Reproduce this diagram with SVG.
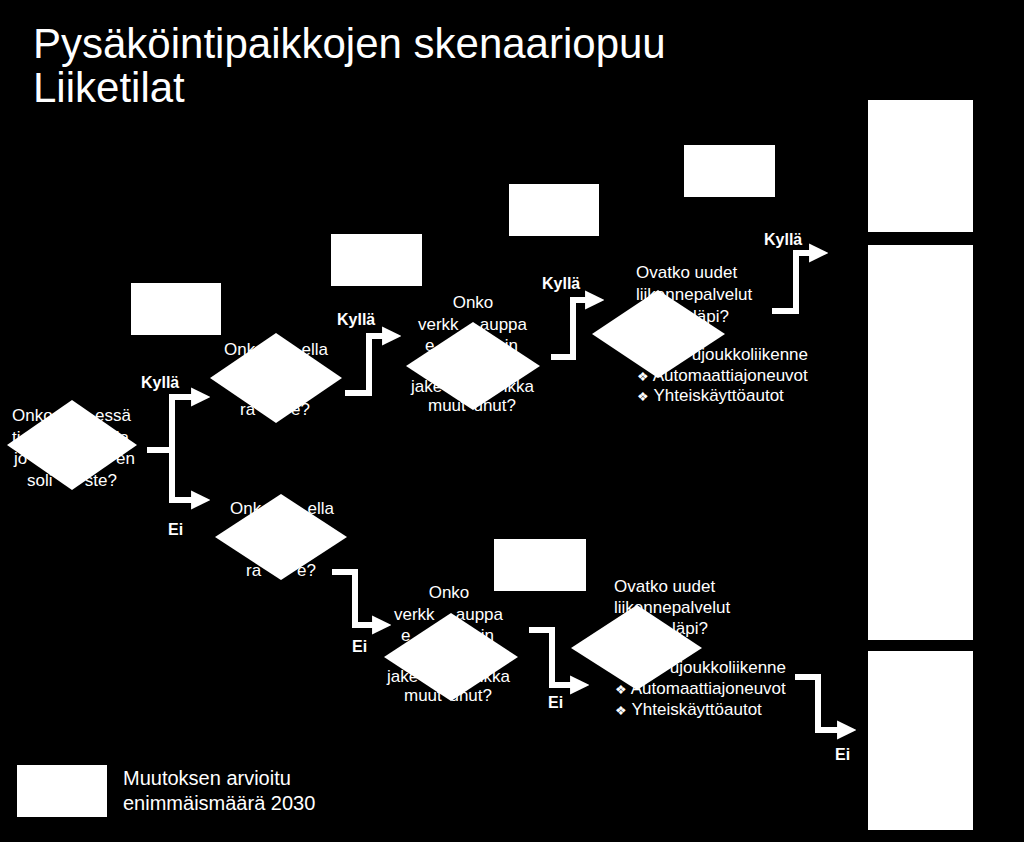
<svg xmlns="http://www.w3.org/2000/svg" width="1024" height="842" viewBox="0 0 1024 842">
<defs>
<style>
text{font-family:"Liberation Sans",Arial,sans-serif;fill:#fff}
.q{font-size:17px}
.s{text-anchor:start}.e{text-anchor:end}.m{text-anchor:middle}
.l{font-size:16px;font-weight:bold}
.c{fill:none;stroke:#fff;stroke-width:6}
.b{fill:#fff}
</style>
<marker id="ah" viewBox="0 0 10 10" refX="1" refY="5" markerWidth="3.2" markerHeight="3.2" orient="auto" markerUnits="strokeWidth"><path d="M0,0L10,5L0,10Z" fill="#fff"/></marker>
</defs>
<rect width="1024" height="842" fill="#000"/>
<g id="title"><text x="33" y="58" font-size="42">Pysäköintipaikkojen skenaariopuu</text><text x="33" y="102" font-size="42">Liiketilat</text></g>
<g id="boxes">
<rect class="b" x="868" y="100" width="105" height="132"/>
<rect class="b" x="868" y="245" width="105" height="395"/>
<rect class="b" x="868" y="651" width="105" height="179"/>
<rect class="b" x="131" y="283" width="90" height="52"/>
<rect class="b" x="331" y="234" width="91" height="52"/>
<rect class="b" x="509" y="184" width="90" height="52"/>
<rect class="b" x="684" y="145" width="91" height="52"/>
<rect class="b" x="494" y="539" width="92" height="52"/>
</g>
<g id="connectors">
<path class="c" d="M147,450H172V397H193" marker-end="url(#ah)"/>
<path class="c" d="M172,450V500H193" marker-end="url(#ah)"/>
<path class="c" d="M345,393H369V336H384" marker-end="url(#ah)"/>
<path class="c" d="M551,357H573V300H587" marker-end="url(#ah)"/>
<path class="c" d="M772,311H796V253H811" marker-end="url(#ah)"/>
<path class="c" d="M332,572H355V625H374" marker-end="url(#ah)"/>
<path class="c" d="M529,630H552V685H572" marker-end="url(#ah)"/>
<path class="c" d="M795,677H818V730H839" marker-end="url(#ah)"/>
</g>
<g id="labels">
<text class="l s" x="141" y="388">Kyllä</text>
<text class="l s" x="337" y="325">Kyllä</text>
<text class="l s" x="542" y="289">Kyllä</text>
<text class="l s" x="764" y="245">Kyllä</text>
<text class="l s" x="168" y="535">Ei</text>
<text class="l s" x="352" y="652">Ei</text>
<text class="l s" x="548" y="708">Ei</text>
<text class="l s" x="835" y="760">Ei</text>
</g>
<g id="n1">
<text class="q s" x="12" y="421">Onko</text><text class="q e" x="131" y="421">essä</text>
<text class="q s" x="12" y="443">ti</text><text class="q e" x="129" y="443">ja</text>
<text class="q s" x="14" y="464">jo</text><text class="q e" x="135" y="464">en</text>
<text class="q s" x="27" y="486">soli</text><text class="q e" x="117" y="486">ste?</text>
<path class="b" d="M72,400L137,445L72,490L7,445Z"/>
</g>
<g id="n2">
<text class="q s" x="224" y="355">Onk</text><text class="q e" x="328" y="355">ella</text>
<text class="q s" x="240" y="415">ra</text><text class="q e" x="310" y="415">e?</text>
<path class="b" d="M276,333L342,378L276,423L210,378Z"/>
</g>
<g id="n3">
<text class="q s" x="230" y="514">Onk</text><text class="q e" x="334" y="514">ella</text>
<text class="q s" x="246" y="576">ra</text><text class="q e" x="316" y="576">e?</text>
<path class="b" d="M281,494L347,537L281,580L215,537Z"/>
</g>
<g id="n4">
<text class="q m" x="473" y="308">Onko</text>
<text class="q s" x="418" y="330">verkk</text><text class="q e" x="527" y="330">auppa</text>
<text class="q s" x="425" y="351">e</text><text class="q e" x="518" y="351">in</text>
<text class="q s" x="411" y="392">jake</text><text class="q e" x="534" y="392">ikka</text>
<text class="q s" x="428" y="411">muut</text><text class="q e" x="516" y="411">unut?</text>
<path class="b" d="M473,322L540,366L473,410L406,366Z"/>
</g>
<g id="n5">
<text class="q s" x="636" y="278">Ovatko uudet</text>
<text class="q s" x="636" y="300">liikennepalvelut</text>
<text class="q e" x="729" y="322">läpi?</text>
<text class="q e" x="808" y="360">ujoukkoliikenne</text>
<text class="q s" x="637" y="381"><tspan font-size="13">❖</tspan> Automaattiajoneuvot</text>
<text class="q s" x="637" y="401"><tspan font-size="13">❖</tspan> Yhteiskäyttöautot</text>
<path class="b" d="M658,290L725,334L658,378L592,334Z"/>
</g>
<g id="n6">
<text class="q m" x="449" y="598">Onko</text>
<text class="q s" x="394" y="620">verkk</text><text class="q e" x="503" y="620">auppa</text>
<text class="q s" x="401" y="641">e</text><text class="q e" x="494" y="641">in</text>
<text class="q s" x="387" y="682">jake</text><text class="q e" x="510" y="682">ikka</text>
<text class="q s" x="404" y="701">muut</text><text class="q e" x="492" y="701">unut?</text>
<path class="b" d="M451,613L518,657L451,701L384,657Z"/>
</g>
<g id="n7">
<text class="q s" x="614" y="592">Ovatko uudet</text>
<text class="q s" x="614" y="613">liikennepalvelut</text>
<text class="q e" x="708" y="634">läpi?</text>
<text class="q e" x="786" y="673">ujoukkoliikenne</text>
<text class="q s" x="615" y="694"><tspan font-size="13">❖</tspan> Automaattiajoneuvot</text>
<text class="q s" x="615" y="715"><tspan font-size="13">❖</tspan> Yhteiskäyttöautot</text>
<path class="b" d="M637,605L702,648L637,690L571,648Z"/>
</g>
<g id="legend">
<rect class="b" x="17" y="765" width="90" height="52"/>
<text x="123" y="785" font-size="20">Muutoksen arvioitu</text>
<text x="123" y="810" font-size="20">enimmäismäärä 2030</text>
</g>
</svg>
